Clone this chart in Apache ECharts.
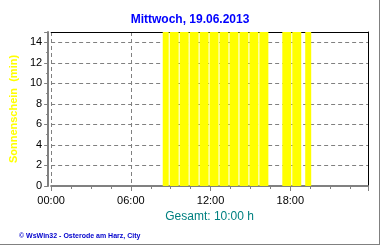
<!DOCTYPE html>
<html>
<head>
<meta charset="utf-8">
<script src="https://cdn.jsdelivr.net/npm/echarts@6/dist/echarts.min.js"></script>
<style>
html,body{margin:0;padding:0;background:#fff;}
#c{width:380px;height:245px;}
</style>
</head>
<body>
<div id="c"></div>
<script>
// Sunshine intervals (hours of day) and minutes of sunshine (clipped at axis max)
const barStart = [8.40, 8.925, 9.675, 10.425, 11.175, 11.925, 12.675, 13.425, 14.175, 14.925, 15.675, 17.40, 18.15, 19.125];
const barEnd   = [8.85, 9.60, 10.35, 11.10, 11.85, 12.60, 13.35, 14.10, 14.85, 15.60, 16.35, 18.075, 18.825, 19.575];
const barValue = [15, 15, 15, 15, 15, 15, 15, 15, 15, 15, 15, 15, 15, 15];
const yTicks = [0, 2, 4, 6, 8, 10, 12, 14];
const xTickHours = [0, 6, 12, 18];
const titleText = 'Mittwoch, 19.06.2013';
const totalText = 'Gesamt: 10:00 h';
const footerText = '\u00A9 WsWin32 - Osterode am Harz, City';
const yName = 'Sonnenschein  (min)';

const font = 'Liberation Sans, Arial, sans-serif';
const data = barStart.map((s, i) => [s, barEnd[i], barValue[i]]);
const pad = n => (n < 10 ? '0' : '') + n;

const chart = echarts.init(document.getElementById('c'), null, {renderer: 'canvas'});
chart.setOption({
  backgroundColor: '#fff',
  animation: false,
  title: [
    {text: titleText, left: 'center', top: 9,
     textStyle: {color: '#0000FF', fontSize: 12, fontWeight: 'bold', fontFamily: font}},
    {text: footerText, left: 14, top: 228,
     textStyle: {color: '#0000CC', fontSize: 7, fontWeight: 'bold', fontFamily: font}}
  ],
  grid: {left: 50, top: 32, right: 12, bottom: 59, containLabel: false},
  xAxis: [{
    type: 'value', min: 0, max: 23.85, interval: 6,
    name: totalText, nameLocation: 'middle', nameGap: 23,
    nameTextStyle: {color: '#008080', fontSize: 12, fontFamily: font, verticalAlign: 'top'},
    axisLine: {show: true, onZero: false, lineStyle: {color: '#808080', width: 2}},
    axisTick: {show: true, length: 5, lineStyle: {color: '#808080'}},
    minorTick: {show: true, splitNumber: 4, length: 3, lineStyle: {color: '#808080'}},
    splitLine: {show: true, showMaxLine: false, lineStyle: {color: '#808080', type: [4, 3]}},
    axisLabel: {color: '#000', fontSize: 11, fontFamily: font, margin: 9,
      formatter: v => xTickHours.indexOf(v) >= 0 ? pad(v) + ':00' : ''}
  }, {
    type: 'value', position: 'top', min: 0, max: 23.85,
    axisLine: {show: true, onZero: false, lineStyle: {color: '#000', width: 1}},
    axisTick: {show: false}, axisLabel: {show: false}, splitLine: {show: false}
  }],
  yAxis: [{
    type: 'value', min: 0, max: 15, interval: 2, offset: 3,
    name: yName, nameLocation: 'middle', nameGap: 22, nameRotate: 90,
    nameTextStyle: {color: '#FFFF00', fontSize: 11, fontWeight: 'bold', fontFamily: font},
    axisLine: {show: true, onZero: false, lineStyle: {color: '#808080', width: 2}},
    axisTick: {show: true, length: 4, lineStyle: {color: '#808080'}},
    minorTick: {show: true, splitNumber: 2, length: 2, lineStyle: {color: '#808080'}},
    splitLine: {show: true, showMaxLine: false, lineStyle: {color: '#808080', type: [4, 3]}},
    axisLabel: {color: '#000', fontSize: 11, fontFamily: font, margin: 6,
      formatter: v => yTicks.indexOf(v) >= 0 ? String(v) : ''}
  }, {
    type: 'value', position: 'right', min: 0, max: 15,
    axisLine: {show: true, onZero: false, lineStyle: {color: '#000', width: 1}},
    axisTick: {show: false}, axisLabel: {show: false}, splitLine: {show: false}
  }],
  graphic: [
    {type: 'line', shape: {x1: 379.5, y1: 0, x2: 379.5, y2: 245}, style: {stroke: '#808080', lineWidth: 1}},
    {type: 'line', shape: {x1: 0, y1: 244.5, x2: 380, y2: 244.5}, style: {stroke: '#808080', lineWidth: 1}}
  ],
  series: [{
    type: 'custom',
    xAxisIndex: 0, yAxisIndex: 0,
    data: data,
    clip: true,
    renderItem: function (params, api) {
      const p0 = api.coord([api.value(0), api.value(2)]);
      const p1 = api.coord([api.value(1), 0]);
      return {
        type: 'rect',
        shape: {x: p0[0], y: p0[1], width: p1[0] - p0[0], height: p1[1] - p0[1]},
        style: {fill: '#FFFF00'}
      };
    },
    z: 1
  }]
});
</script>
</body>
</html>
